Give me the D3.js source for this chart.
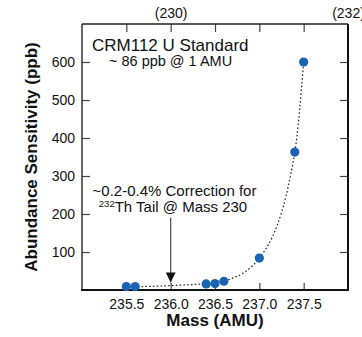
<!DOCTYPE html>
<html>
<head>
<meta charset="utf-8">
<script src="https://cdn.jsdelivr.net/npm/d3@7"></script>
<style>
  body { margin: 0; background: #fff; }
  svg { display: block; font-family: "Liberation Sans", Arial, Helvetica, sans-serif; }
</style>
</head>
<body>
<div id="chart"></div>
<script>
// measured points
const massAMU = [235.5, 235.6, 236.4, 236.5, 236.6, 237.0, 237.4, 237.5];
const sensitivityPpb = [9, 9, 16, 17, 23, 84, 363, 600];

// tick labels
const xTicks = [235.5, 236.0, 236.5, 237.0, 237.5];
const yTicks = [100, 200, 300, 400, 500, 600];
const topTicks = [236.0, 238.0];
const topLabels = ['(230)', '(232)'];

// arrow annotation (mass, from ppb, to ppb)
const arrowMass = 236.0;
const arrowFrom = 190;
const arrowTo = 20;

const width = 362, height = 337;
const margin = { top: 24, right: 14, bottom: 47, left: 82 };
const w = width - margin.left - margin.right;
const h = height - margin.top - margin.bottom;

const svg = d3.select('#chart').append('svg')
  .attr('width', width)
  .attr('height', height);

const defs = svg.append('defs');
defs.append('marker')
  .attr('id', 'head')
  .attr('viewBox', '0 0 10 10')
  .attr('refX', 10).attr('refY', 5)
  .attr('markerWidth', 10).attr('markerHeight', 10)
  .attr('markerUnits', 'userSpaceOnUse')
  .attr('orient', 'auto')
  .append('path')
  .attr('d', 'M0,0L10,5L0,10Z')
  .attr('fill', '#111');

const g = svg.append('g')
  .attr('transform', `translate(${margin.left}, ${margin.top})`);

const x = d3.scaleLinear().domain([235, 238]).range([0, w]);
const y = d3.scaleLinear().domain([0, 700]).range([h, 0]);

// axes, ticks pointing inward
const axBottom = g.append('g')
  .attr('transform', `translate(0, ${h})`)
  .call(d3.axisBottom(x).tickValues(xTicks).tickFormat(d3.format('.1f')).tickSize(-7).tickPadding(9));
const axLeft = g.append('g')
  .call(d3.axisLeft(y).tickValues(yTicks).tickSize(-8).tickPadding(7));
const axRight = g.append('g')
  .attr('transform', `translate(${w}, 0)`)
  .call(d3.axisRight(y).tickValues(yTicks).tickSize(-8).tickFormat(''));
const axTop = g.append('g')
  .call(d3.axisTop(x).tickValues(xTicks).tickSize(-8).tickFormat(''));

g.append('g')
  .call(d3.axisTop(x).tickValues(topTicks).tickSize(0).tickPadding(6)
    .tickFormat((d, i) => topLabels[i]))
  .call(s => s.select('.domain').remove());

[axBottom, axLeft, axRight, axTop].forEach(a => {
  a.select('.domain').remove();
  a.selectAll('.tick line').attr('stroke', '#444').attr('stroke-width', 1.2);
});
g.selectAll('.tick text')
  .attr('font-size', 14)
  .attr('fill', '#111')
  .attr('font-family', '"Liberation Sans", Arial, sans-serif');

// frame
g.append('line').attr('x1', 0).attr('x2', 0).attr('y1', 0).attr('y2', h)
  .attr('stroke', '#333').attr('stroke-width', 1.5);
g.append('line').attr('x1', 0).attr('x2', w).attr('y1', 0).attr('y2', 0)
  .attr('stroke', '#222').attr('stroke-width', 1.5);
g.append('line').attr('x1', w).attr('x2', w).attr('y1', 0).attr('y2', h)
  .attr('stroke', '#111').attr('stroke-width', 2);
g.append('line').attr('x1', -1).attr('x2', w + 1).attr('y1', h).attr('y2', h)
  .attr('stroke', '#111').attr('stroke-width', 2);

// fitted trend (dotted)
const pts = massAMU.map((m, i) => ({ m: m, v: sensitivityPpb[i] }));
const trend = d3.line()
  .x(d => x(d.m))
  .y(d => y(d.v))
  .curve(d3.curveMonotoneX);

g.append('path')
  .datum(pts)
  .attr('d', trend)
  .attr('fill', 'none')
  .attr('stroke', '#222')
  .attr('stroke-width', 1.2)
  .attr('stroke-dasharray', '1.6,2.2');

// arrow
g.append('line')
  .attr('x1', x(arrowMass)).attr('x2', x(arrowMass))
  .attr('y1', y(arrowFrom)).attr('y2', y(arrowTo))
  .attr('stroke', '#555').attr('stroke-width', 1.3)
  .attr('marker-end', 'url(#head)');

// points
g.selectAll('circle')
  .data(pts)
  .enter().append('circle')
  .attr('cx', d => x(d.m))
  .attr('cy', d => y(d.v))
  .attr('r', 4.6)
  .attr('fill', '#1b63b3');

// annotations
svg.append('text')
  .attr('x', 92).attr('y', 51)
  .attr('font-size', 17).attr('fill', '#111')
  .text('CRM112 U Standard');
svg.append('text')
  .attr('x', 109).attr('y', 66)
  .attr('font-size', 14.5).attr('fill', '#111')
  .text('~ 86 ppb @ 1 AMU');

svg.append('text')
  .attr('x', 174.5).attr('y', 196)
  .attr('text-anchor', 'middle')
  .attr('font-size', 15).attr('fill', '#111')
  .text('~0.2-0.4% Correction for');
const l2 = svg.append('text')
  .attr('x', 173).attr('y', 212)
  .attr('text-anchor', 'middle')
  .attr('font-size', 15).attr('fill', '#111');
l2.append('tspan').attr('font-size', 9.5).attr('dy', -5).text('232');
l2.append('tspan').attr('dy', 5).text('Th Tail @ Mass 230');

// axis titles
svg.append('text')
  .attr('x', margin.left + w / 2).attr('y', 325.5)
  .attr('text-anchor', 'middle')
  .attr('font-size', 17).attr('font-weight', 'bold').attr('fill', '#111')
  .text('Mass (AMU)');
svg.append('text')
  .attr('transform', `translate(37, ${margin.top + h / 2}) rotate(-90)`)
  .attr('text-anchor', 'middle')
  .attr('font-size', 17).attr('font-weight', 'bold').attr('fill', '#111')
  .text('Abundance Sensitivity (ppb)');
</script>
</body>
</html>
